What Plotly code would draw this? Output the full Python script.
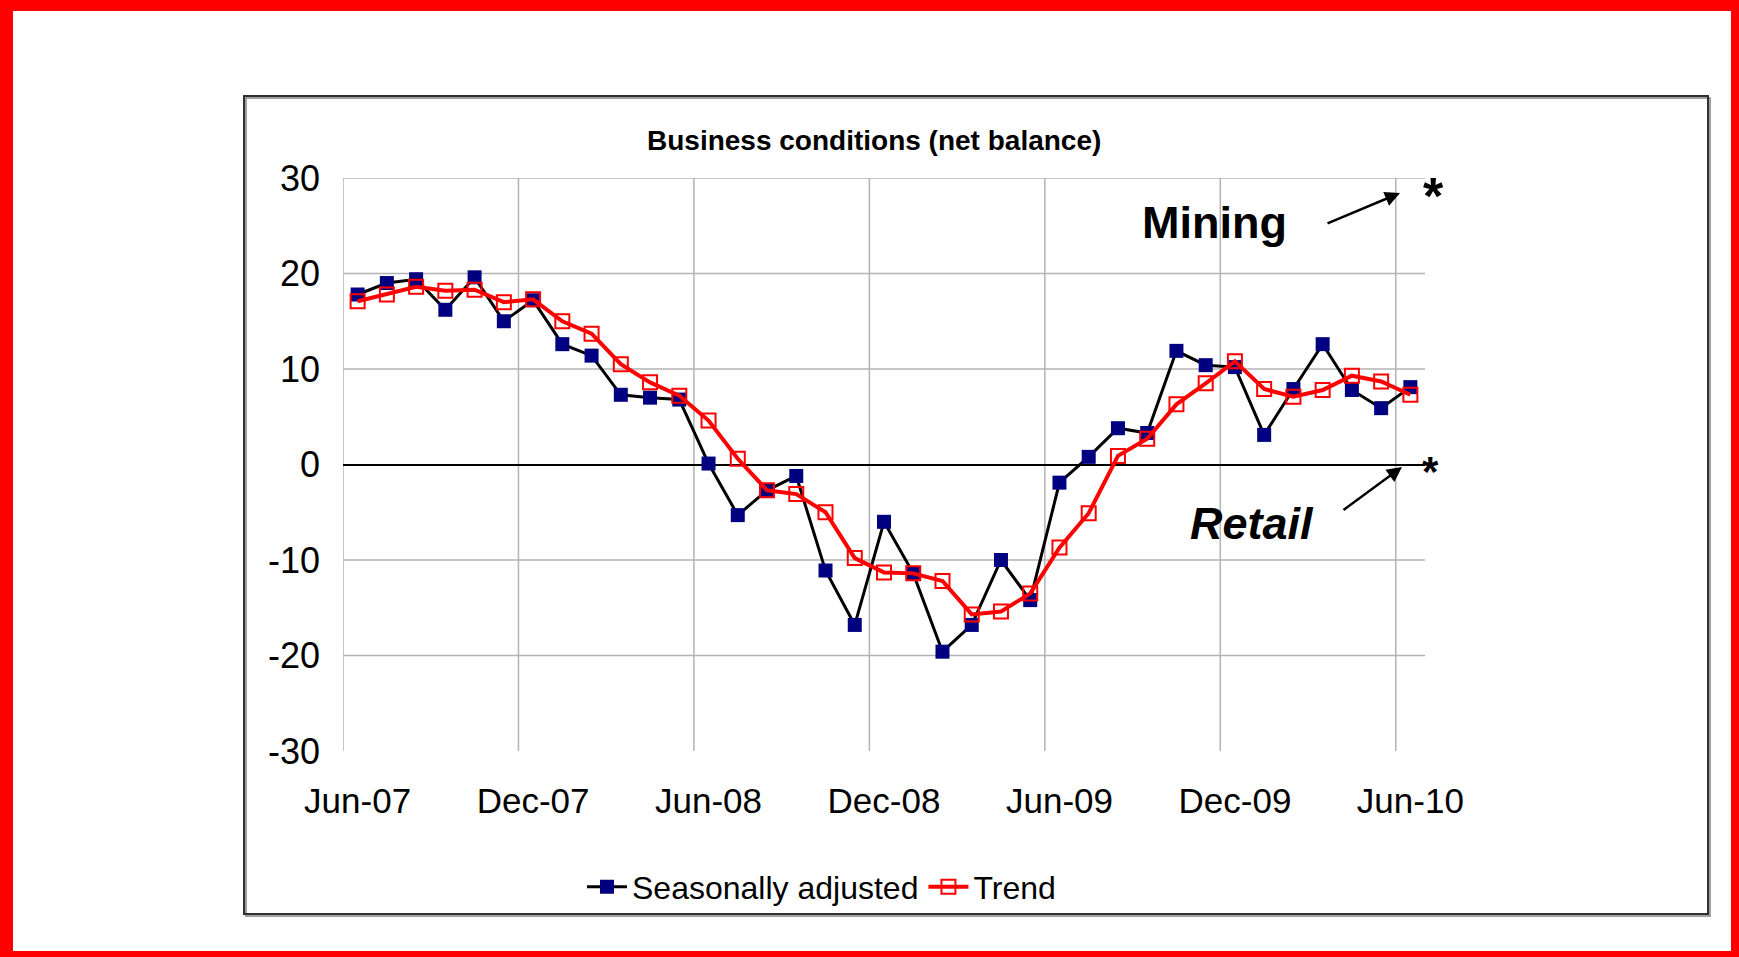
import plotly.graph_objects as go

# ---------------- data ----------------
months = ['Jun-07', 'Jul-07', 'Aug-07', 'Sep-07', 'Oct-07', 'Nov-07', 'Dec-07',
          'Jan-08', 'Feb-08', 'Mar-08', 'Apr-08', 'May-08', 'Jun-08', 'Jul-08',
          'Aug-08', 'Sep-08', 'Oct-08', 'Nov-08', 'Dec-08', 'Jan-09', 'Feb-09',
          'Mar-09', 'Apr-09', 'May-09', 'Jun-09', 'Jul-09', 'Aug-09', 'Sep-09',
          'Oct-09', 'Nov-09', 'Dec-09', 'Jan-10', 'Feb-10', 'Mar-10', 'Apr-10',
          'May-10', 'Jun-10']

seasonally_adjusted = [17.8, 19.0, 19.4, 16.2, 19.6, 15.0, 17.2, 12.6, 11.4, 7.3,
                       7.0, 6.8, 0.1, -5.3, -2.7, -1.2, -11.1, -16.8, -6.0, -11.4,
                       -19.6, -16.8, -10.0, -14.2, -1.9, 0.8, 3.8, 3.3, 11.9, 10.4,
                       10.2, 3.1, 7.9, 12.6, 7.8, 5.9, 8.1]

trend = [17.1, 17.8, 18.6, 18.2, 18.3, 17.0, 17.3, 15.0, 13.7, 10.5,
         8.6, 7.2, 4.6, 0.6, -2.7, -3.1, -5.0, -9.8, -11.3, -11.4,
         -12.2, -15.7, -15.4, -13.5, -8.7, -5.1, 0.9, 2.7, 6.3, 8.5,
         10.8, 7.9, 7.1, 7.8, 9.3, 8.7, 7.3]

tick_labels = ['Jun-07', 'Dec-07', 'Jun-08', 'Dec-08', 'Jun-09', 'Dec-09', 'Jun-10']
y_ticks = [-30, -20, -10, 0, 10, 20, 30]

# ---------------- geometry ----------------
W, H = 1739, 957
L, R, T, B = 343, 314, 178, 206
PW, PH = W - L - R, H - T - B


def px(x):
    return (x - L) / PW


def py(y):
    return (H - B - y) / PH


FONT = 'Liberation Sans, Arial, Helvetica, sans-serif'
GRID = '#b3b3b3'

xs = list(range(len(months)))
tick_pos = [months.index(t) for t in tick_labels]

fig = go.Figure()
fig.add_trace(go.Scatter(
    x=xs, y=seasonally_adjusted, name='Seasonally adjusted', mode='lines+markers',
    line=dict(color='black', width=3),
    marker=dict(symbol='square', size=14, color='#000080'),
    customdata=months, hovertemplate='%{customdata}: %{y}<extra></extra>'))
fig.add_trace(go.Scatter(
    x=xs, y=trend, name='Trend', mode='lines+markers',
    line=dict(color='#ff0000', width=4),
    marker=dict(symbol='square-open', size=14, color='#ff0000', line=dict(width=2)),
    customdata=months, hovertemplate='%{customdata}: %{y}<extra></extra>'))

shapes = []
# vertical gridlines at category boundaries
for t in tick_pos:
    shapes.append(dict(type='line', xref='x', yref='y', x0=t - 0.5, x1=t - 0.5,
                       y0=y_ticks[0], y1=y_ticks[-1], layer='below',
                       line=dict(color=GRID, width=1.5)))
# horizontal gridlines
for v in y_ticks:
    if v in (0, y_ticks[0]):
        continue
    shapes.append(dict(type='line', xref='x', yref='y', x0=-0.5, x1=len(months) - 0.5,
                       y0=v, y1=v, layer='below', line=dict(color=GRID, width=1.5)))

# inner chart frame (with a light shadow)
shapes.append(dict(type='rect', xref='paper', yref='paper',
                   x0=px(246), x1=px(1710), y0=py(98), y1=py(916),
                   line=dict(color='#a0a0a0', width=2), layer='below'))
shapes.append(dict(type='rect', xref='paper', yref='paper',
                   x0=px(244), x1=px(1708), y0=py(96), y1=py(914),
                   line=dict(color='#303030', width=2), layer='below'))

# red outer border
for (x0, x1, y0, y1) in [(0, W, 0, 11), (0, 13, 0, H), (W - 8, W, 0, H), (0, W, H - 6, H)]:
    shapes.append(dict(type='rect', xref='paper', yref='paper',
                       x0=px(x0), x1=px(x1), y0=py(y1), y1=py(y0),
                       fillcolor='#ff0000', line=dict(width=0), layer='above'))

annotations = [
    dict(text='<b>Business conditions (net balance)</b>', xref='paper', yref='paper',
         x=px(874), y=py(141), xanchor='center', yanchor='middle', showarrow=False,
         font=dict(family=FONT, size=28, color='black')),
    dict(text='<b>Mining</b>', xref='paper', yref='paper',
         x=px(1214), y=py(222), xanchor='center', yanchor='middle', showarrow=False,
         font=dict(family=FONT, size=45, color='black')),
    dict(text='<b><i>Retail</i></b>', xref='paper', yref='paper',
         x=px(1252), y=py(523), xanchor='center', yanchor='middle', showarrow=False,
         font=dict(family=FONT, size=45, color='black')),
    dict(text='<b>*</b>', xref='paper', yref='paper',
         x=px(1433), y=py(196), xanchor='center', yanchor='middle', showarrow=False,
         font=dict(family=FONT, size=52, color='black')),
    dict(text='<b>*</b>', xref='paper', yref='paper',
         x=px(1430), y=py(471), xanchor='center', yanchor='middle', showarrow=False,
         font=dict(family=FONT, size=42, color='black')),
    # arrows
    dict(text='', xref='paper', yref='paper', x=px(1400), y=py(193),
         ax=-74, ay=31, showarrow=True, arrowhead=2, arrowsize=1.2, arrowwidth=2.5,
         arrowcolor='black', standoff=0, startstandoff=0),
    dict(text='', xref='paper', yref='paper', x=px(1402), y=py(467),
         ax=-60, ay=44, showarrow=True, arrowhead=2, arrowsize=1.2, arrowwidth=2.5,
         arrowcolor='black', standoff=0, startstandoff=0),
]

fig.update_layout(
    width=W, height=H,
    margin=dict(l=L, r=R, t=T, b=B, pad=0),
    paper_bgcolor='white', plot_bgcolor='white',
    font=dict(family=FONT, color='black'),
    showlegend=True,
    legend=dict(orientation='h', x=px(582), xanchor='left', y=py(887), yanchor='middle',
                font=dict(family=FONT, size=32, color='black'),
                bgcolor='rgba(0,0,0,0)', itemwidth=40, tracegroupgap=0),
    xaxis=dict(range=[-0.5, len(months) - 0.5], tickmode='array', tickvals=tick_pos,
               ticktext=tick_labels, showgrid=False, zeroline=False, showline=False,
               ticks='', tickfont=dict(family=FONT, size=35, color='black'),
               ticklabelstandoff=26, fixedrange=True),
    yaxis=dict(range=[y_ticks[0], y_ticks[-1]], tickmode='array', tickvals=y_ticks,
               ticktext=[str(v) for v in y_ticks],
               showgrid=False, zeroline=True, zerolinecolor='black', zerolinewidth=1.5,
               showline=False, ticks='', tickfont=dict(family=FONT, size=36, color='black'),
               ticklabelstandoff=22, fixedrange=True),
    shapes=shapes,
    annotations=annotations,
)

fig.write_html('out.html',
               config={'displayModeBar': False},
               post_script="document.body.style.margin='0';"
                           "document.body.style.padding='0';"
                           "document.body.style.overflow='hidden';")
